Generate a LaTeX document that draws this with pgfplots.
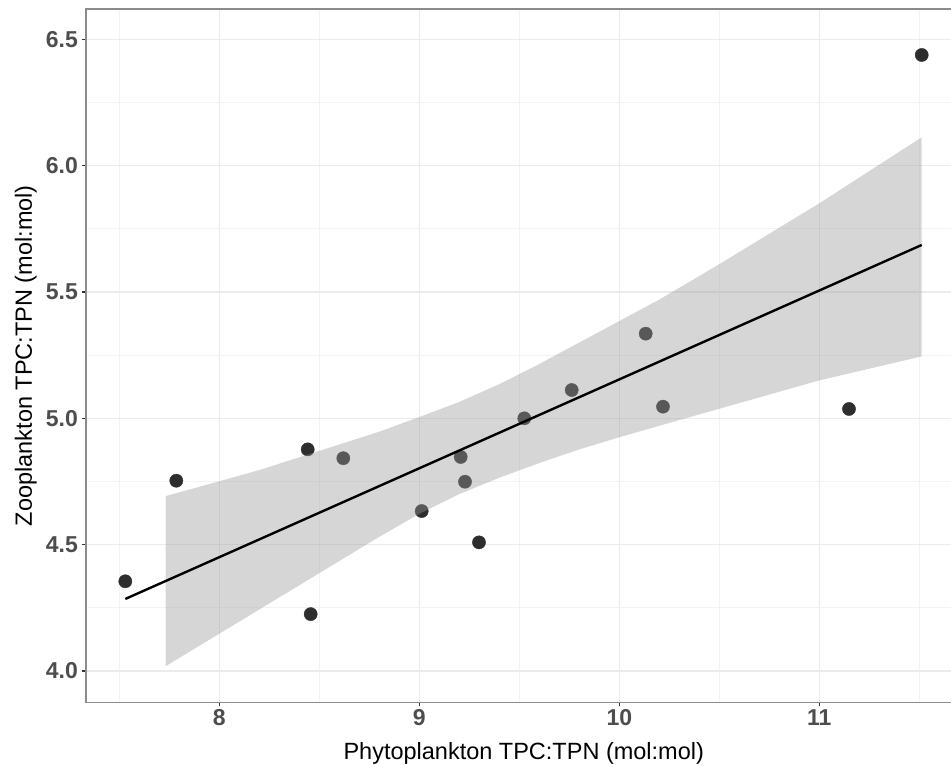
\documentclass[border=0pt]{standalone}
\usepackage{fontspec}
\setmainfont{Liberation Sans}
\usepackage{pgfplots}
\pgfplotsset{compat=1.18}
\definecolor{gridmaj}{HTML}{EBEBEB}
\definecolor{gridmin}{HTML}{F3F3F3}
\definecolor{framec}{HTML}{8C8C8C}
\definecolor{ticklab}{HTML}{4D4D4D}
\definecolor{tickc}{HTML}{333333}
\definecolor{pts}{HTML}{2E2E2E}
\definecolor{ribbon}{HTML}{999999}

\begin{document}
\begin{tikzpicture}
\useasboundingbox (-86pt,-63.7pt) rectangle (865pt,702.3pt);
\begin{axis}[
  scale only axis, width=875.5pt, height=693.3pt,
  xmin=7.3335, xmax=11.711, ymin=3.876, ymax=6.620,
  axis line style={framec, line width=1.5pt},
  xtick={8,9,10,11}, minor xtick={7.5,8.5,9.5,10.5,11.5},
  ytick={4,4.5,5,5.5,6,6.5}, minor ytick={4.25,4.75,5.25,5.75,6.25},
  grid=both,
  major grid style={gridmaj, line width=1.4pt},
  minor grid style={gridmin, line width=0.8pt},
  tick align=outside, major tick length=4pt, minor tick length=0pt,
  xtick pos=lower, ytick pos=left,
  major tick style={tickc, line width=1.1pt},
  /pgf/number format/assume math mode=true,
  ticklabel style={font=\fontsize{23}{23}\selectfont\bfseries, text=ticklab},
  yticklabel style={/pgf/number format/.cd, fixed, fixed zerofill, precision=1, /tikz/.cd, inner sep=4pt},
  xlabel={Phytoplankton TPC:TPN (mol:mol)},
  ylabel={Zooplankton TPC:TPN (mol:mol)},
  xlabel style={font=\fontsize{23.5}{28}\selectfont, at={(axis description cs:0.5,-0.0832)}, anchor=base},
  ylabel style={font=\fontsize{23.5}{28}\selectfont, at={(axis description cs:-0.0617,0.5)}, anchor=base},
  clip=true, clip marker paths=true,
]
% points
\addplot[only marks, mark=*, mark size=6.6pt, mark options={fill=pts, draw=pts}] coordinates {
(7.530,4.355) (7.785,4.753) (8.442,4.877) (8.457,4.225) (8.620,4.842)
(9.012,4.633) (9.207,4.847) (9.2285,4.749) (9.2985,4.509) (9.525,5.000)
(9.762,5.112) (10.132,5.335) (10.2185,5.046) (11.1485,5.037) (11.512,6.438)
};
% confidence ribbon
\addplot[draw=none, fill=ribbon, fill opacity=0.4] coordinates {
(7.732,4.692) (8.20,4.795) (8.80,4.947) (9.00,5.005) (9.20,5.065) (9.40,5.135)
(9.60,5.215) (9.80,5.300) (10.00,5.385) (10.20,5.470) (10.50,5.610) (11.00,5.851) (11.512,6.112)
(11.512,5.245) (11.00,5.150) (10.30,4.993) (10.00,4.925) (9.80,4.877) (9.60,4.823)
(9.40,4.765) (9.20,4.700) (9.00,4.622) (8.80,4.531) (7.732,4.019)
} -- cycle;
% regression line
\addplot[black, line width=2.4pt] coordinates {(7.530,4.285) (11.512,5.686)};
\end{axis}
\end{tikzpicture}
\end{document}
